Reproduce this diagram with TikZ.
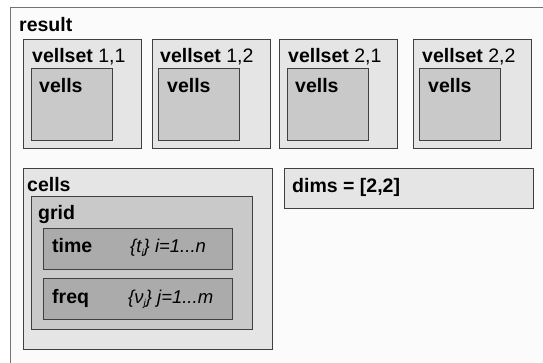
\documentclass[tikz,border=0pt]{standalone}
\usepackage{fontspec}
\setmainfont{Liberation Sans}
\begin{document}
\begin{tikzpicture}[x=1pt,y=-1pt,
  outerbox/.style={draw=black!55,fill=black!1.5,line width=0.9pt},
  lightbox/.style={draw=black!75,fill=black!10,line width=0.9pt},
  midbox/.style={draw=black!75,fill=black!21,line width=0.9pt},
  darkbox/.style={draw=black!75,fill=black!33,line width=0.9pt},
  lbl/.style={anchor=base west,inner sep=0pt,font=\fontsize{19.5}{22}\selectfont\bfseries},
  ilbl/.style={anchor=base west,inner sep=0pt,font=\fontsize{18.5}{21}\selectfont\itshape}]
\useasboundingbox (0,0) rectangle (543,363);
\fill[white] (0,0) rectangle (543,363);
\clip (0,0) rectangle (543,363);
% outer result box
\draw[outerbox] (10.5,7.5) rectangle (570,400);
\node[lbl] (result) at (19,32) {result};
% vellsets
\foreach \x/\ix in {23/31, 152/158, 279/287, 413/419}{
  \draw[lightbox] (\x,39) rectangle ++(118,109);
  \draw[midbox] (\ix,68) rectangle ++(81,72);
}
\node[lbl] (ls11) at (32,63) {vellset \mdseries 1,1};
\node[lbl] (ls12) at (160,63) {vellset \mdseries 1,2};
\node[lbl] (ls21) at (288,63) {vellset \mdseries 2,1};
\node[lbl] (ls22) at (422,63) {vellset \mdseries 2,2};
\node[lbl] (lv11) at (39,93) {vells};
\node[lbl] (lv12) at (167,93) {vells};
\node[lbl] (lv21) at (295,93) {vells};
\node[lbl] (lv22) at (428,93) {vells};
% dims
\draw[lightbox] (284,168) rectangle (533,208);
\node[lbl] (dims) at (292,193) {dims = [2,2]};
% cells
\draw[lightbox] (23,168) rectangle (272,349);
\node[lbl] (cells) at (27,192) {cells};
\draw[midbox] (31,196) rectangle (252,329);
\node[lbl] (grid) at (38,220) {grid};
\draw[darkbox] (43,228) rectangle (232,269);
\node[lbl] (time) at (52,253) {time};
\node[ilbl] (trange) at (130,253) {\{t\raisebox{-0.4ex}{\fontsize{10}{12}\selectfont i}\} i=1...n};
\draw[darkbox] (43,278) rectangle (232,319);
\node[lbl] (freq) at (52,303) {freq};
\node[ilbl] (frange) at (128,303) {\{ν\raisebox{-0.4ex}{\fontsize{10}{12}\selectfont j}\} j=1...m};
\end{tikzpicture}
\end{document}
